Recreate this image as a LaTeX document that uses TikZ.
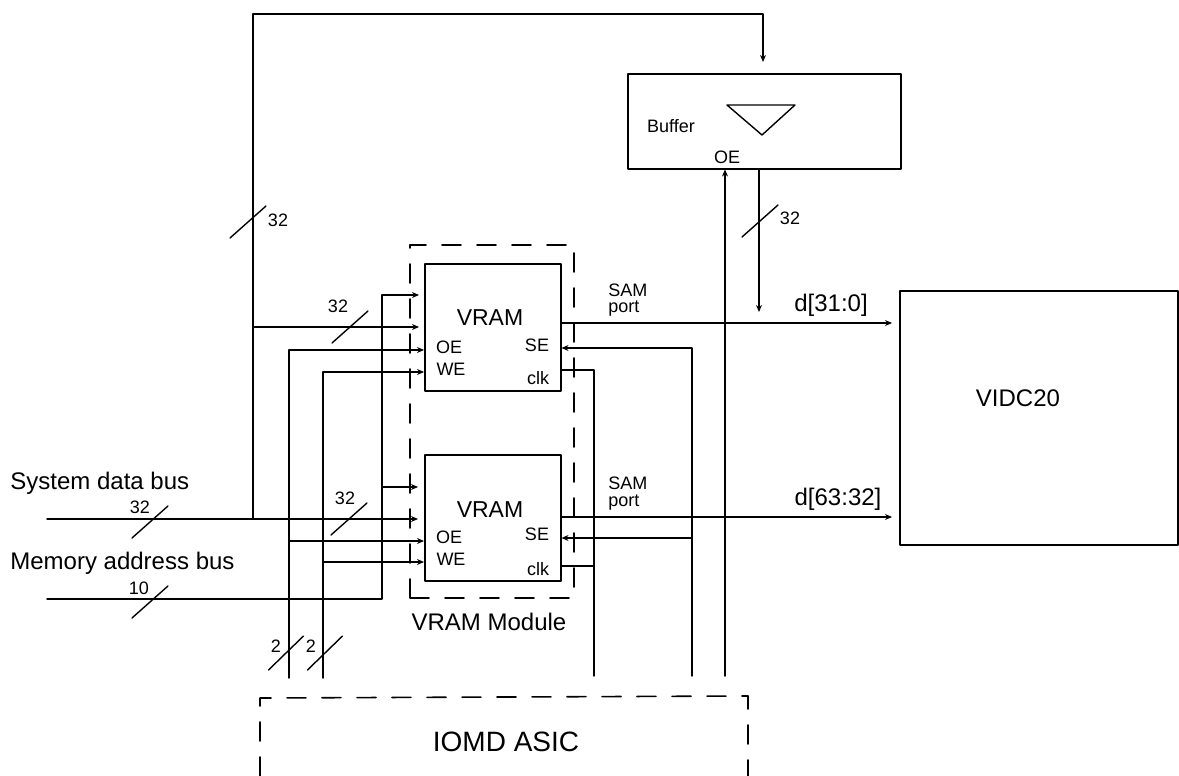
\documentclass[tikz,border=0pt]{standalone}
\usepackage{fontspec}
\setmainfont{Liberation Sans}
\usetikzlibrary{positioning,arrows.meta}
\tikzset{
	box/.style={draw,line width=0.75pt,inner sep=0pt},
	wire/.style={line width=0.7pt},
	tick/.style={line width=0.7pt},
	sig/.style={wire,-{Stealth[length=3.5pt,width=3pt]}},
	frame/.style={line width=0.8pt,dash pattern=on 9.5pt off 8pt},
	big/.style={inner sep=0pt,font=\fontsize{12}{13}\selectfont},
	small/.style={inner sep=0pt,font=\fontsize{9}{10}\selectfont},
}
\begin{document}
\begin{tikzpicture}[x=0.5pt,y=-0.5pt,>=stealth,line join=round,line cap=round]
	\useasboundingbox (0,0) rectangle (1179,776);
	% boxes
	\node[box,minimum width=68pt,minimum height=63.5pt,anchor=north west] (vramA) at (424,263) {};
	\node[box,minimum width=68pt,minimum height=63pt,anchor=north west] (vramB) at (424,454) {};
	\node[box,minimum width=136.5pt,minimum height=47.5pt,anchor=north west] (buffer) at (627,73) {};
	\node[box,minimum width=139pt,minimum height=127pt,anchor=north west] (vidc) at (899,290) {};
	\node[big] (vidcT) at (1018,398) {VIDC20};
	\node[big,font=\fontsize{11.5}{12}\selectfont] (vramAT) at (490,318) {VRAM};
	\node[big,font=\fontsize{11.5}{12}\selectfont] (vramBT) at (490,510) {VRAM};
	% buffer inside
	\node[small] (bufT) at (671,126) {Buffer};
	\node[small] (bufOE) at (727,157) {OE};
	\draw[line width=0.7pt] (727,105)--(795,105)--(762,135)--cycle;
	% pins
	\foreach \n/\y/\z in {A/0/0,B/190/-1}{
		\node[small] (oe\n) at (449,347+\y) {OE};
		\node[small] (we\n) at (451,369+\y) {WE};
		\node[small] (se\n) at (537,345+\y+\z) {SE};
		\node[small] (clk\n) at (538,378+\y-\z) {clk};
	}
	% module and asic frames
	\draw[frame] (410,598) -- (410,245) -- (574,245) -- (574,598) -- cycle;
	\draw[frame] (260,776) -- (260,698) -- (748,696) -- (748,776);
	\node[big] (modT) at (489,622) {VRAM Module};
	\node[big,font=\fontsize{14}{15}\selectfont] (asicT) at (506,742) {IOMD ASIC};
	% named ends
	\coordinate (sysL) at (47,519);
	\coordinate (memL) at (47,599);
	\coordinate (sysT) at (253,519);
	\coordinate (addrT) at (382,295);
	\coordinate (asicA) at (289,678);
	\coordinate (asicB) at (323,678);
	\coordinate (asicC) at (594,676);
	\coordinate (asicD) at (692,676);
	\coordinate (asicE) at (725,676);
	\coordinate (bufIn) at (763,62);
	\coordinate (bufOut) at (759,312);
	\coordinate (sinkA) at (892,323);
	\coordinate (sinkB) at (892,517);
	% data bus
	\draw[wire] (sysL) -- (sysT);
	\draw[sig] (sysT) -- (253,14) -| (bufIn);
	\draw[sig] (sysT) -- (418,519);
	\draw[sig] (sysT |- 0,327) -- (419,327);
	% address bus
	\draw[sig] (memL) -| (addrT) -- (419,295);
	\draw[sig] (382,487) -- (418,487);
	% OE, WE
	\draw[sig] (asicA) |- (vramA.west |- 0,350);
	\draw[sig] (289,541) -- (vramB.west |- 0,541);
	\draw[sig] (asicB) |- (vramA.west |- 0,372);
	\draw[sig] (323,562) -- (vramB.west |- 0,562);
	% SE, clk
	\draw[sig] (asicD) |- (vramA.east |- 0,348);
	\draw[sig] (692,538) -- (vramB.east |- 0,538);
	\draw[wire] (asicC) |- (vramA.east |- 0,370);
	\draw[wire] (594,566) -- (vramB.east |- 0,566);
	% outputs
	\draw[sig] (vramA.east |- sinkA) -- (sinkA);
	\draw[sig] (vramB.east |- sinkB) -- (sinkB);
	\draw[sig] (buffer.south -| bufOut) -- (bufOut);
	\draw[sig] (asicE) -- (buffer.south -| asicE);
	% bus width marks
	\foreach \x/\y/\t/\tx/\ty in {248/222/32/278/220, 350/327/32/338/306, 349/519/32/345/498, 150/522/32/140/507, 150/602/10/139/588, 760/221/32/790/218}{
		\draw[tick] (\x-18,\y+16) -- (\x+18,\y-16);
		\node[small] (n\x) at (\tx,\ty) {\t};
	}
	\foreach \x/\tx in {286/276,325/311}{
		\draw[tick] (\x-17.5,670) -- (\x+17.5,636);
		\node[small] (n\x) at (\tx,646) {2};
	}
	\node[big,anchor=west] (sysT2) at (10,483) {System data bus};
	\node[big,anchor=west] (memT) at (10,563) {Memory address bus};
	\node[small,anchor=west] (samA) at (608,290) {SAM};
	\node[small,anchor=west] (portA) at (608,309) {port};
	\node[small,anchor=west] (samB) at (608,483) {SAM};
	\node[small,anchor=west] (portB) at (608,503) {port};
	\node[big] (dA) at (831,305) {d[31:0]};
	\node[big] (dB) at (838,499) {d[63:32]};
\end{tikzpicture}
\end{document}
